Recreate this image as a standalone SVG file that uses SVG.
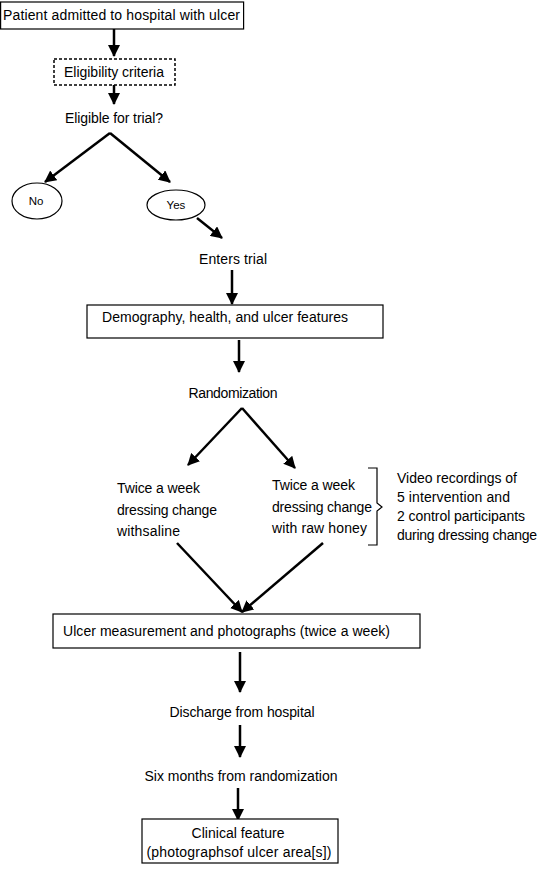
<svg xmlns="http://www.w3.org/2000/svg" width="539" height="874" viewBox="0 0 539 874">
<style>
text{font-family:"Liberation Sans",Arial,sans-serif;font-size:14px;fill:#000}
.c{text-anchor:middle}
.s{font-size:11.5px}
.box{fill:#fff;stroke:#000;stroke-width:1.2}
.dash{fill:#fff;stroke:#000;stroke-width:1.5;stroke-dasharray:3,2}
.ar{stroke:#000;stroke-width:2.5;fill:none;marker-end:url(#ah)}
</style>
<defs>
<marker id="ah" markerUnits="userSpaceOnUse" markerWidth="12" markerHeight="12" viewBox="0 0 12 12" refX="11" refY="6" orient="auto">
<path d="M0,0 L12,6 L0,12 Z" fill="#000"/>
</marker>
</defs>
<rect width="539" height="874" fill="#fff"/>
<g id="connectors">
<line class="ar" x1="114" y1="29" x2="114" y2="56"/>
<line class="ar" x1="114" y1="85" x2="114" y2="104"/>
<line class="ar" x1="110" y1="133" x2="45" y2="182"/>
<line class="ar" x1="110" y1="133" x2="170" y2="182"/>
<line class="ar" x1="197" y1="218" x2="222" y2="238"/>
<line class="ar" x1="232" y1="270" x2="232" y2="304"/>
<line class="ar" x1="239" y1="340" x2="239" y2="372"/>
<line class="ar" x1="242" y1="408" x2="188" y2="465"/>
<line class="ar" x1="242" y1="408" x2="295" y2="468"/>
<line class="ar" x1="177" y1="543" x2="242" y2="612"/>
<line class="ar" x1="323" y1="543" x2="242" y2="612"/>
<line class="ar" x1="240" y1="652" x2="240" y2="692"/>
<line class="ar" x1="240" y1="725" x2="240" y2="757"/>
<line class="ar" x1="238" y1="788" x2="238" y2="820"/>
</g>
<g id="admitted">
<rect class="box" x="0.6" y="2" width="243" height="27"/>
<text x="3" y="20" textLength="237">Patient admitted to hospital with ulcer</text>
</g>
<g id="eligibility">
<rect class="dash" x="54" y="59" width="121" height="26"/>
<text class="c" x="114" y="77" textLength="100">Eligibility criteria</text>
</g>
<g id="eligible">
<text class="c" x="114" y="123" textLength="98">Eligible for trial?</text>
</g>
<g id="no">
<ellipse class="box" cx="37" cy="201" rx="25" ry="18"/>
<text class="c s" x="36" y="205">No</text>
</g>
<g id="yes">
<ellipse class="box" cx="176" cy="205" rx="29" ry="15"/>
<text class="c s" x="176" y="209">Yes</text>
</g>
<g id="enters">
<text class="c" x="233" y="264" textLength="68">Enters trial</text>
</g>
<g id="demography">
<rect class="box" x="87" y="305" width="296" height="33"/>
<text x="102" y="322" textLength="246">Demography, health, and ulcer features</text>
</g>
<g id="randomization">
<text class="c" x="233" y="398" textLength="89">Randomization</text>
</g>
<g id="saline">
<text x="117" y="493" textLength="83">Twice a week</text>
<text x="117" y="515" textLength="100">dressing change</text>
<text x="117" y="536" textLength="63">withsaline</text>
</g>
<g id="honey">
<text x="272" y="490" textLength="83">Twice a week</text>
<text x="272" y="512" textLength="100">dressing change</text>
<text x="272" y="533" textLength="95">with raw honey</text>
</g>
<g id="video">
<path d="M368,468 H377 V503 L382,507 L377,511 V545 H368" fill="none" stroke="#000" stroke-width="1.2"/>
<text x="397" y="483" textLength="120">Video recordings of</text>
<text x="397" y="502" textLength="113">5 intervention and</text>
<text x="397" y="521" textLength="128">2 control participants</text>
<text x="397" y="540" textLength="140">during dressing change</text>
</g>
<g id="measurement">
<rect class="box" x="53" y="614" width="367" height="34"/>
<text x="63" y="636" textLength="327">Ulcer measurement and photographs (twice a week)</text>
</g>
<g id="discharge">
<text class="c" x="242" y="717" textLength="145">Discharge from hospital</text>
</g>
<g id="sixmonths">
<text class="c" x="241" y="781" textLength="193">Six months from randomization</text>
</g>
<g id="clinical">
<rect class="box" x="142" y="819" width="196" height="44"/>
<text class="c" x="238" y="838" textLength="93">Clinical feature</text>
<text class="c" x="239" y="857" textLength="185">(photographsof ulcer area[s])</text>
</g>
</svg>
